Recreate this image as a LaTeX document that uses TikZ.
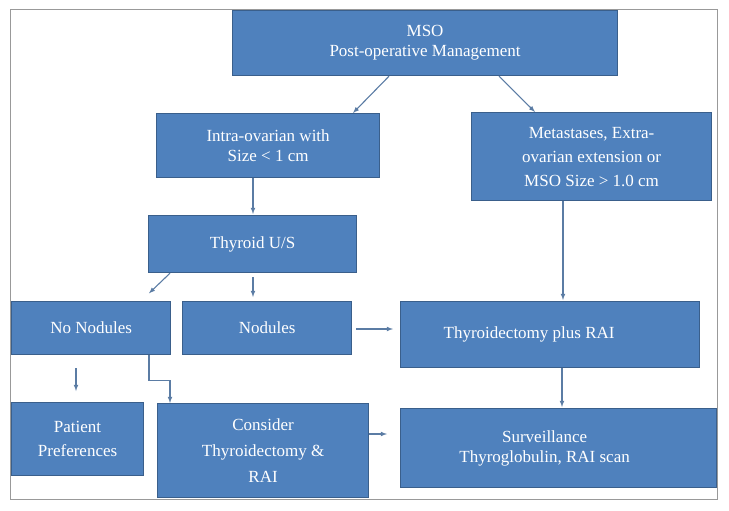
\documentclass[tikz,border=0pt]{standalone}
\usepackage{fontspec}
\setmainfont{Liberation Serif}
\usepackage{tikz}
\tikzset{>=latex}
\usepackage{xcolor}
\definecolor{boxfill}{HTML}{4F81BD}
\definecolor{boxline}{HTML}{3A5F8B}
\definecolor{arrcol}{HTML}{5B7CA4}
\tikzstyle{box}=[draw=boxline,fill=boxfill,line width=1.2pt,text=white,
  align=center,anchor=north west,inner sep=0pt,font=\fontsize{17}{20}\selectfont]
\tikzstyle{arr}=[->,arrcol,line width=1.1pt]

\begin{document}
\begin{tikzpicture}[x=1pt,y=-1pt]
  \useasboundingbox (0,0) rectangle (729,511);
  \def\wide{24}
  % frame
  \draw[gray!80,line width=1pt] (10,10) rectangle (717,499);

  % top
  \node[box,minimum width=385pt,minimum height=65pt] (mso) at (232,10)
       {MSO\\Post-operative Management};
  \node[box,minimum width=223pt,minimum height=64pt] (intra) at (156,113)
       {Intra-ovarian with\\Size < 1 cm};
  \node[box,minimum width=240pt,minimum height=88pt,
        font=\fontsize{17}{\wide}\selectfont] (met) at (471,112)
       {Metastases, Extra-\\ovarian extension or\\MSO Size > 1.0 cm};

  % middle
  \node[box,minimum width=208pt,minimum height=57pt] (thyus) at (148,215)
       {Thyroid U/S};
  \node[box,minimum width=159pt,minimum height=53pt] (nonod) at (11,301)
       {No Nodules};
  \node[box,minimum width=169pt,minimum height=53pt] (nod) at (182,301)
       {Nodules};
  \node[box,minimum width=299pt,minimum height=66pt] (thyrai) at (400,301)
       {Thyroidectomy plus RAI\hspace*{42pt}};

  % bottom
  \node[box,minimum width=132pt,minimum height=73pt,
        font=\fontsize{17}{\wide}\selectfont] (pat) at (11,402)
       {Patient\\Preferences};
  \node[box,minimum width=211pt,minimum height=94pt,
        font=\fontsize{17}{26}\selectfont] (cons) at (157,403)
       {Consider\\Thyroidectomy \&\\RAI};
  \node[box,minimum width=316pt,minimum height=79pt] (surv) at (400,408)
       {Surveillance\hspace*{28pt}\\Thyroglobulin, RAI scan\hspace*{28pt}};

  % arrows
  \draw[arr] (mso.south -| 389,0) -- (intra.north -| 353,0);
  \draw[arr] (mso.south -| 499,0) -- (met.north -| 535,0);
  \draw[arr,shorten >=1pt] (intra.south -| 253,0) -- (thyus.north -| 253,0);
  \draw[arr,shorten >=1pt] (met.south -| 563,0) -- (thyrai.north -| 563,0);
  \draw[arr,shorten >=11pt] (thyus.south -| 170,0) -- (nonod.north -| 141,0);
  \draw[arr,shorten <=4pt,shorten >=4pt] (thyus.south -| 253,0) -- (nod.north -| 253,0);
  \draw[arr,shorten <=4pt,shorten >=7pt] (nod.east |- 0,329) -- (thyrai.west |- 0,329);
  \draw[arr,shorten <=13pt,shorten >=11pt] (nonod.south -| 76,0) -- (pat.north -| 76,0);
  \draw[arr] (nonod.south -| 149,0) -- ++(0,25) -| (cons.north -| 170,0);
  \draw[arr,shorten >=1pt] (thyrai.south -| 562,0) -- (surv.north -| 562,0);
  \draw[arr,shorten >=13pt] (cons.east |- 0,434) -- (surv.west |- 0,434);
\end{tikzpicture}
\end{document}
